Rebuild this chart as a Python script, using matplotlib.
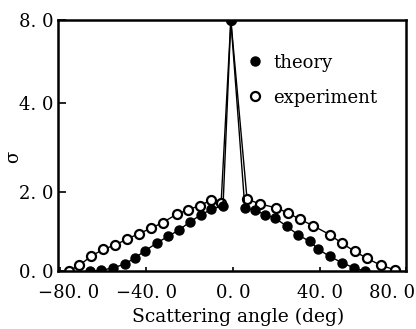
import matplotlib
matplotlib.use("Agg")
import matplotlib.pyplot as plt
import matplotlib.transforms as mtransforms
import numpy as np

# data (angle in deg, sigma)
theory_x = [-66, -61, -55.5, -50, -45.5, -40.5, -35, -30, -25, -20, -15, -10, -4.6,
            -1,
            5.5, 10, 15, 19.5, 25, 30, 35.5, 39.5, 44.8, 50.5, 56, 61]
theory_y = [0.0, 0.02, 0.08, 0.18, 0.33, 0.52, 0.72, 0.88, 1.04, 1.24, 1.42, 1.56, 1.66,
            8.0,
            1.59, 1.55, 1.42, 1.34, 1.13, 0.92, 0.75, 0.55, 0.37, 0.21, 0.08, 0.0]

exp_x = [-76, -71, -65.5, -60, -54.5, -49, -43.5, -38, -32.5, -26, -20.8, -15.3, -10, -5.5,
         -1,
         6.5, 12.5, 20, 25.5, 31, 37, 44.8, 50.5, 56.3, 62, 68.3, 74.8]
exp_y = [0.0, 0.15, 0.38, 0.55, 0.66, 0.81, 0.95, 1.08, 1.23, 1.44, 1.55, 1.66, 1.80, 1.72,
         8.0,
         1.82, 1.70, 1.60, 1.47, 1.31, 1.15, 0.92, 0.70, 0.50, 0.32, 0.15, 0.03]

x_ticks = [-80, -40, 0, 40, 80]
x_tick_labels = ['\u221280. 0', '\u221240. 0', '0. 0', '40. 0', '80. 0']
y_ticks = [0, 2, 4, 8]
y_tick_labels = ['0. 0', '2. 0', '4. 0', '8. 0']

# the printed y axis is not evenly spaced: piecewise linear scale
y_in = [-100, 0, 2, 4, 8, 100]
y_out = [-3950, 0, 79, 168, 251, 251 + 92 * 20.75]

def fwd(v):
    return np.interp(v, y_in, y_out)

def inv(v):
    return np.interp(v, y_out, y_in)

plt.rcParams['font.family'] = ['DejaVu Serif']

fig = plt.figure(figsize=(4.16, 3.29), dpi=100)
ax = fig.add_axes([0.139, 0.176, 0.837, 0.763])

ax.plot(theory_x, theory_y, color='black', lw=1.0, marker='o', ms=6.5,
        mfc='black', mec='black', label='theory', zorder=3)
ax.plot(exp_x, exp_y, color='black', lw=1.0, marker='o', ms=6.5,
        mfc='white', mec='black', mew=1.6, label='experiment', zorder=2)

ax.set_yscale('function', functions=(fwd, inv))
ax.set_xlim(-81, 80)
ax.set_ylim(0, 8)

ax.set_xticks(x_ticks)
ax.set_xticklabels(x_tick_labels)
ax.set_yticks(y_ticks)
ax.set_yticklabels(y_tick_labels)
ax.minorticks_off()
ax.tick_params(axis='x', direction='in', length=3, width=1.2, labelsize=13, pad=9)
ax.tick_params(axis='y', direction='in', length=6, width=1.2, labelsize=13, pad=3)

# end labels sit a bit inward, as in the printed figure
end_labels = ax.get_xticklabels()
end_labels[0].set_transform(end_labels[0].get_transform() +
                            mtransforms.ScaledTranslation(0.09, 0, fig.dpi_scale_trans))
end_labels[-1].set_transform(end_labels[-1].get_transform() +
                             mtransforms.ScaledTranslation(-0.14, 0, fig.dpi_scale_trans))

for s in ax.spines.values():
    s.set_linewidth(1.8)

ax.set_xlabel('Scattering angle (deg)', fontsize=13.5)
ax.xaxis.set_label_coords(0.517, -0.145)
ax.set_ylabel('\u03c3', fontsize=13)
ax.yaxis.set_label_coords(-0.102, 0.454)

leg = ax.legend(loc='upper left', bbox_to_anchor=(0.52, 0.895), frameon=False,
                handlelength=1.0, handletextpad=0.5, labelspacing=0.95,
                fontsize=13, borderaxespad=0)
for h in leg.legend_handles:
    h.set_linestyle('none')

fig.savefig('out.png', dpi=100)
